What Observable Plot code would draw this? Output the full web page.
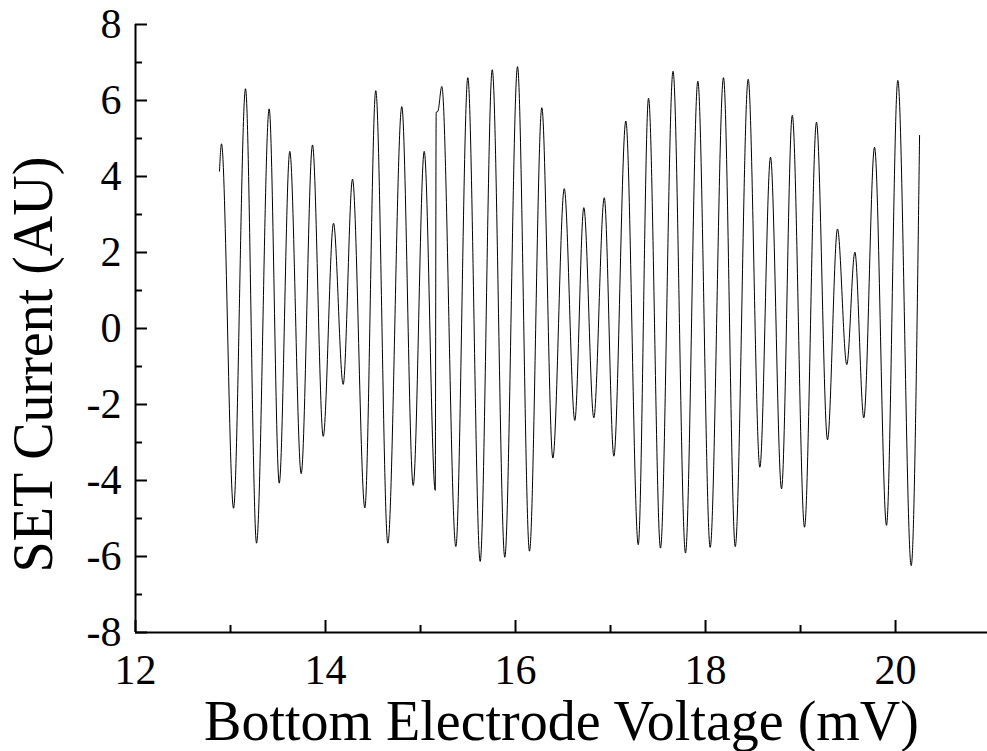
<!DOCTYPE html>
<html><head><meta charset="utf-8">
<script src="https://cdn.jsdelivr.net/npm/d3@7"></script>
<script src="https://cdn.jsdelivr.net/npm/@observablehq/plot@0.6"></script>
<style>html,body{margin:0;padding:0;background:#fff}</style>
</head><body><div id="chart"></div>
<script>
// Bottom electrode voltage (mV) at the extrema of the trace
const voltage = [12.884, 12.905, 13.032, 13.158, 13.274, 13.407, 13.513, 13.624, 13.744, 13.863,
  13.976, 14.084, 14.186, 14.284, 14.414, 14.529, 14.656, 14.803, 14.923, 15.039,
  15.155, 15.165, 15.182, 15.224, 15.372, 15.498, 15.628, 15.755, 15.887, 16.021,
  16.147, 16.277, 16.393, 16.513, 16.624, 16.719, 16.824, 16.934, 17.035, 17.161,
  17.292, 17.400, 17.526, 17.658, 17.789, 17.919, 18.049, 18.189, 18.313, 18.449,
  18.572, 18.684, 18.800, 18.913, 19.042, 19.168, 19.284, 19.389, 19.487, 19.572,
  19.666, 19.779, 19.905, 20.024, 20.165, 20.253];
// SET current (AU)
const current = [4.14, 4.86, -4.73, 6.31, -5.65, 5.78, -4.07, 4.66, -3.82, 4.83,
  -2.84, 2.77, -1.47, 3.93, -4.72, 6.26, -5.65, 5.84, -4.13, 4.66,
  -4.26, 5.69, 5.71, 6.37, -5.74, 6.60, -6.13, 6.81, -6.02, 6.89,
  -5.86, 5.81, -3.41, 3.68, -2.42, 3.18, -2.35, 3.44, -3.36, 5.46,
  -5.69, 6.06, -5.78, 6.77, -5.91, 6.51, -5.76, 6.60, -5.74, 6.56,
  -3.65, 4.51, -4.22, 5.61, -5.23, 5.43, -2.93, 2.62, -0.95, 2.01,
  -2.35, 4.77, -5.18, 6.53, -6.24, 5.08];

const xMajorTicks = [12, 14, 16, 18, 20];
const xMinorTicks = [13, 15, 17, 19];
const yMajorTicks = [-8, -6, -4, -2, 0, 2, 4, 6, 8];
const yMinorTicks = [-7, -5, -3, -1, 1, 3, 5, 7];
const xTitle = "Bottom Electrode Voltage (mV)";
const yTitle = "SET Current (AU)";

const data = voltage.map((v, i) => ({v, c: current[i]}));
const font = "'Liberation Serif', 'Times New Roman', serif";
const plain = d => String(d);

const chart = Plot.plot({
  width: 987,
  height: 751,
  marginLeft: 135,
  marginRight: 0,
  marginTop: 24,
  marginBottom: 119,
  style: {fontFamily: font, fontSize: "42px", color: "black", background: "white"},
  x: {domain: [12, 20.968]},
  y: {domain: [-8, 8]},
  marks: [
    Plot.axisX(xMajorTicks, {tickSize: -12, tickPadding: 34, strokeWidth: 2, label: null, fontSize: 42, tickFormat: plain}),
    Plot.axisX(xMinorTicks, {tickSize: -7, tickFormat: () => "", strokeWidth: 2, label: null}),
    Plot.axisY(yMajorTicks, {tickSize: -12, tickPadding: 26, strokeWidth: 2, label: null, fontSize: 42, tickFormat: plain}),
    Plot.axisY(yMinorTicks, {tickSize: -7, tickFormat: () => "", strokeWidth: 2, label: null}),
    Plot.ruleX([12], {stroke: "black", strokeWidth: 2}),
    Plot.ruleY([-8], {stroke: "black", strokeWidth: 2}),
    Plot.line(data, {x: "v", y: "c", curve: "monotone-x", stroke: "black", strokeWidth: 1}),
    Plot.text([xTitle], {frameAnchor: "bottom", dy: 90, lineAnchor: "middle", textAnchor: "middle", fontSize: 56, fill: "black"}),
    Plot.text([yTitle], {frameAnchor: "left", dx: -101, dy: 36, rotate: -90, lineAnchor: "middle", textAnchor: "middle", fontSize: 56, fill: "black"})
  ]
});
document.getElementById("chart").appendChild(chart);
</script>
</body></html>
